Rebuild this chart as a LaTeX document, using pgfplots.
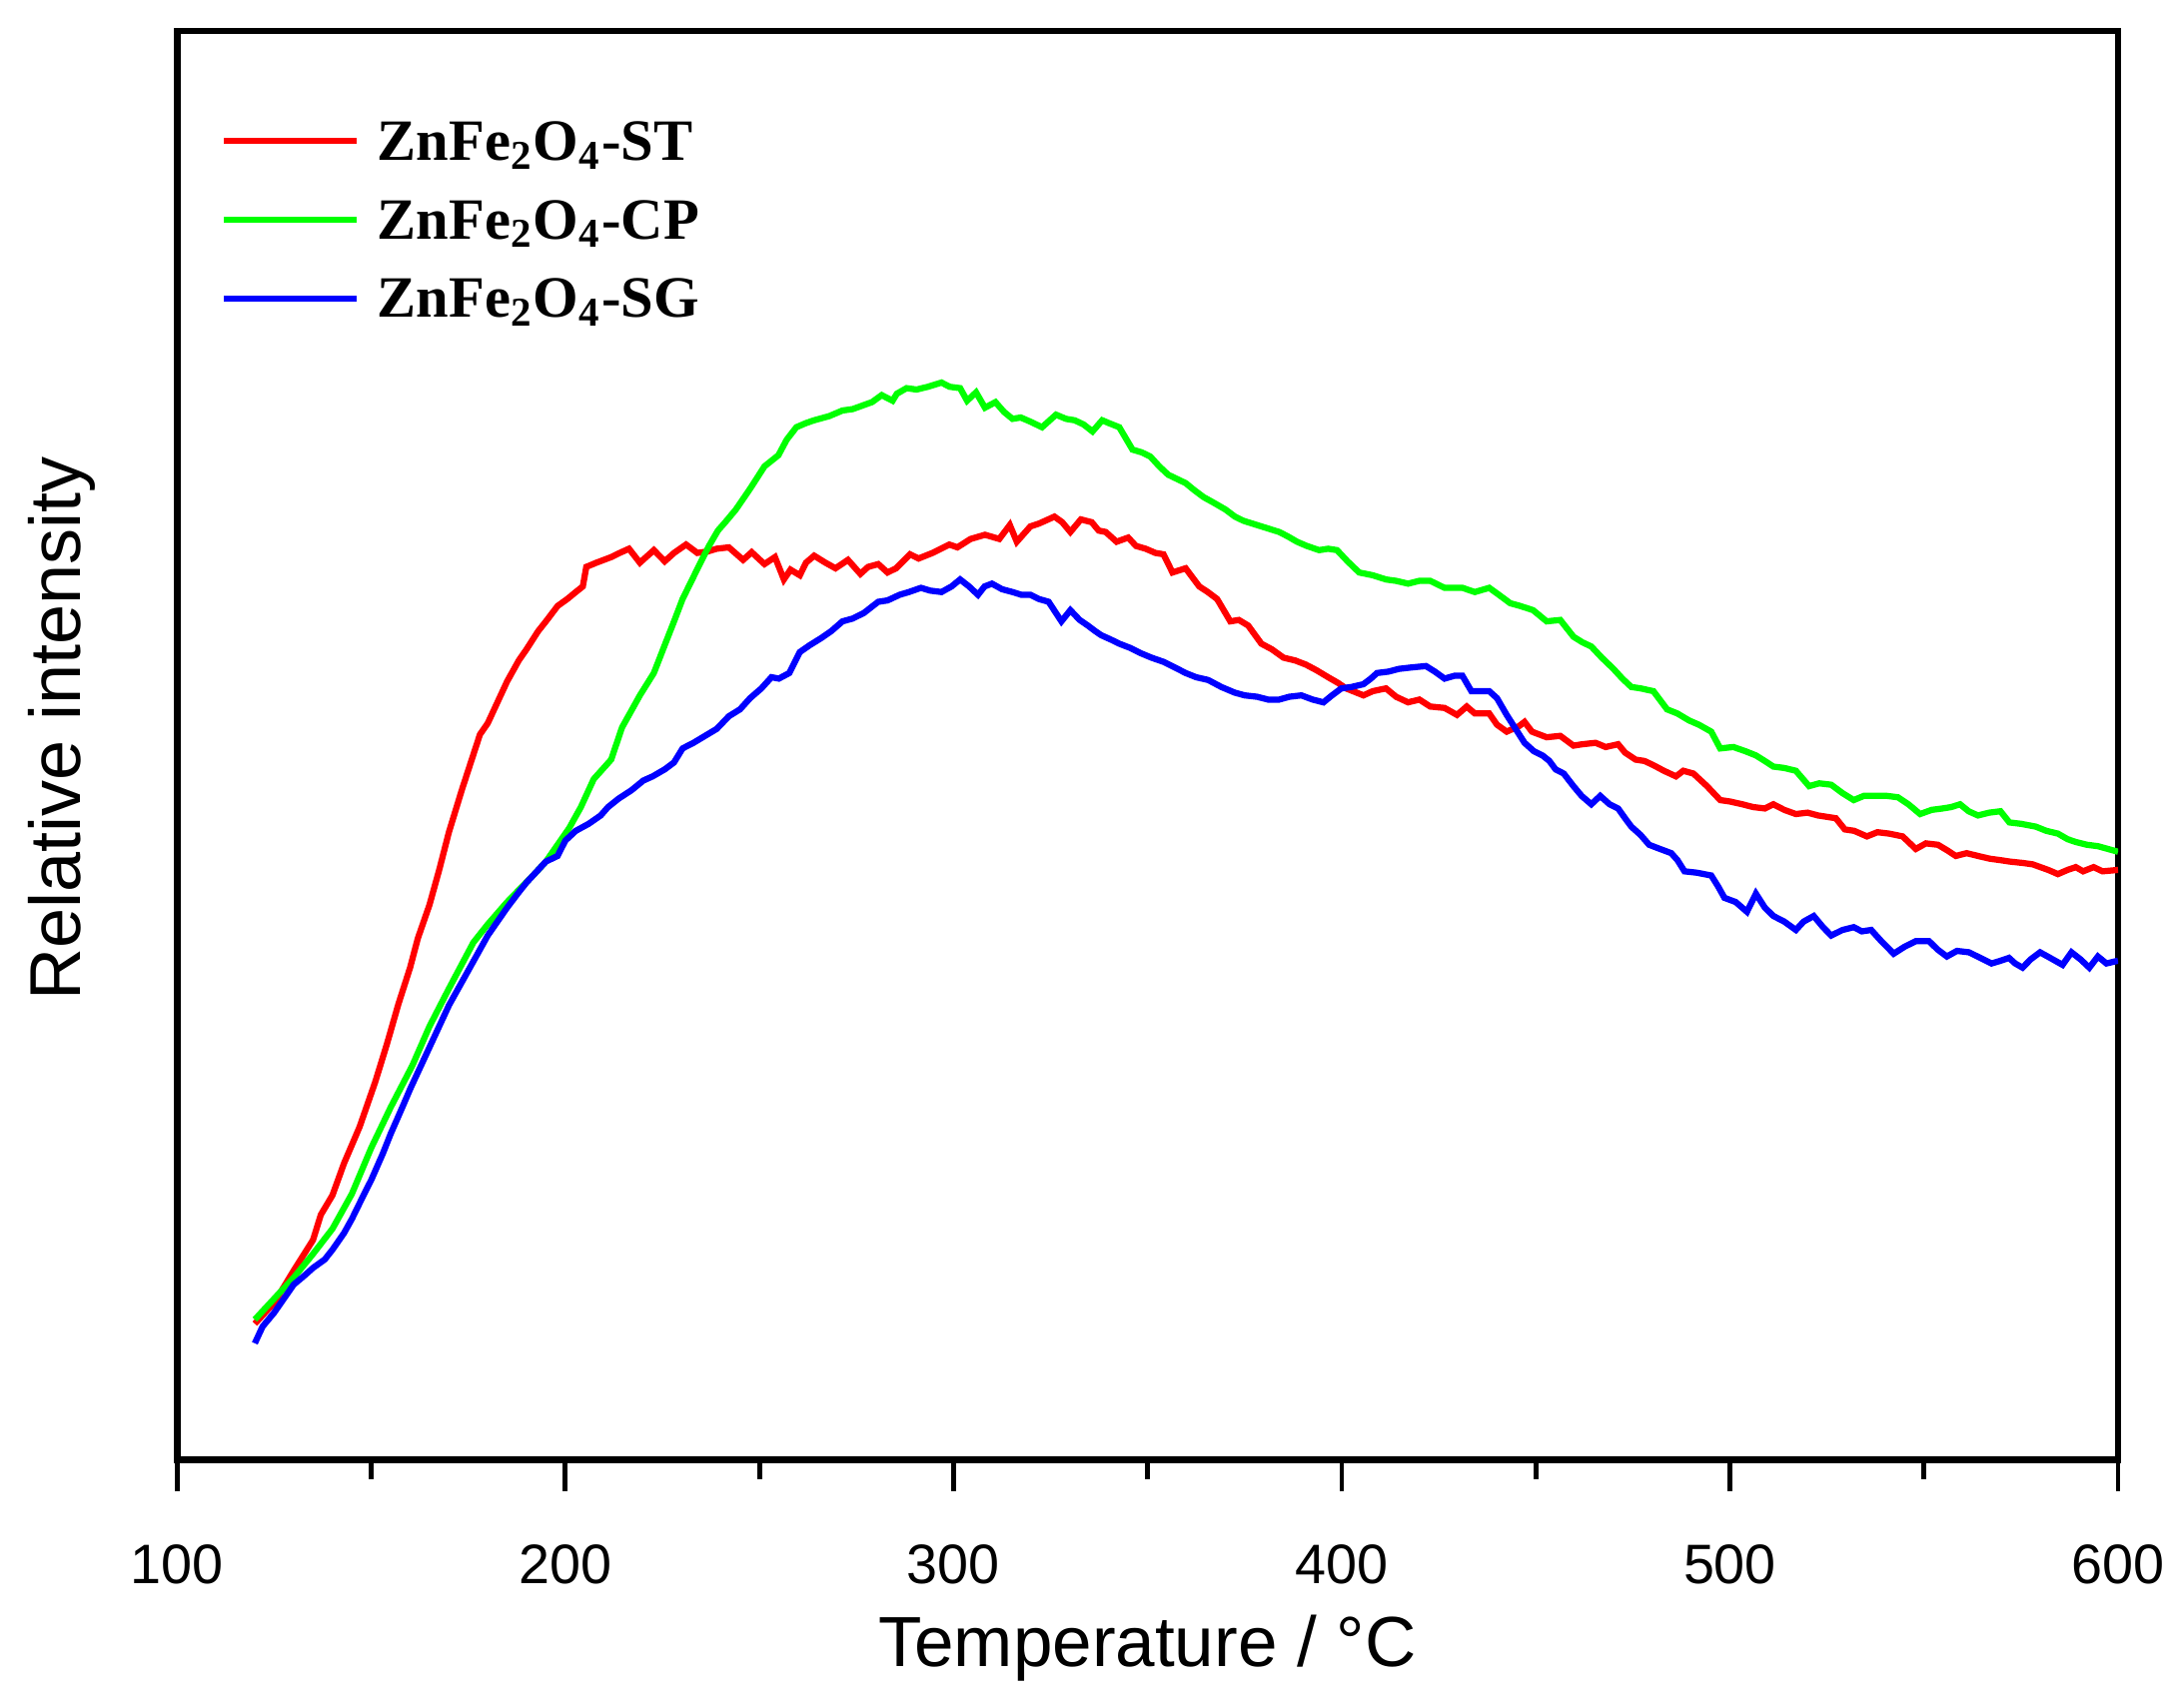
\documentclass[border=0pt]{standalone}
\usepackage{fontspec}
\setmainfont{Liberation Sans}
\newfontfamily\legfont{Liberation Serif}
\usepackage{pgfplots}
\pgfplotsset{compat=1.18}
\definecolor{cred}{RGB}{255,0,0}
\definecolor{cgreen}{RGB}{0,255,0}
\definecolor{cblue}{RGB}{0,0,255}
\begin{document}
\begin{tikzpicture}
\begin{axis}[
  scale only axis,
  width=14.219cm, height=10.472cm,
  xmin=100, xmax=600, ymin=2.4, ymax=1025.8,
  xtick={100,200,...,600},
  minor x tick num=1,
  ytick=\empty,
  xtick pos=bottom,
  tick align=outside,
  major tick length=0.23cm,
  minor tick length=0.14cm,
  every tick/.style={black, line width=1pt},
  axis line style={line width=1.4pt},
  /pgf/number format/assume math mode=true,
  /pgf/number format/1000 sep={},
  ticklabel style={font=\fontsize{11.6}{13}\selectfont},
  xticklabel style={anchor=base, inner sep=0pt, yshift=-0.675cm},
  xlabel={Temperature / °C},
  ylabel={Relative intensity},
  xlabel style={font=\fontsize{14.8}{18}\selectfont, at={([yshift=-1.51cm]axis description cs:0.5,0)}, anchor=base},
  ylabel style={font=\fontsize{15}{18}\selectfont, at={([xshift=-0.71cm]axis description cs:0,0.512)}, anchor=base},
  legend cell align=left,
  legend image code/.code={\draw[#1] (0cm,4pt) -- (0.97cm,4pt);},
  legend style={draw=none, fill=none, inner sep=0pt, at={([xshift=0.314cm,yshift=-18.7pt]axis description cs:0,1)}, anchor=north west,
    font=\legfont\bfseries\fontsize{12.2}{14}\selectfont, row sep=6.8pt, column sep=0.129cm,
    nodes={inner sep=0pt}, cells={anchor=base west}},
]
\addplot[cred, line width=1.3pt] coordinates {
(120,100)(125,115)(130,138)(135,160)(137,178)(140,192)(143,215)(147,241)(151,273)(154,300)(157,329)(160,355)(162,376)(165,400)(167.5,425)(170,452)(173.3,482)(176,505)(178,522)(180,530)(183,548)(185,560)(188,575)(190,583)(193,596)(195,603)(198,614)(200.5,619)(202.7,624)(204.5,628)(205.4,642)(208,645)(211.8,649)(214,652)(216.4,655)(219.2,645)(222.8,654)(225.6,646)(228,652)(231.1,658)(234,652)(236.6,653)(239,655)(242.1,656)(245.8,647)(248,652.5)(251.3,644)(254,649)(256.3,633)(258,640)(260.4,636)(262,645)(264.1,650)(267,645)(269.6,641)(272.8,647)(276,637)(278,642)(280.6,644)(283,638)(285.2,641)(288.8,651)(291,648)(294.6,652)(298.9,658)(301,656)(304.4,662)(308.1,665)(311.8,662)(314.5,672)(316.3,660)(319.8,671)(322,673)(326,678)(328,674)(330.1,667)(332.8,676)(335.6,674)(337.4,668)(339.2,667)(342,660)(345,663)(347,657)(349.5,655)(352,652)(354.1,651)(356.4,638)(359.8,641)(363.3,628)(365.5,624)(367.9,619)(371.3,603)(373.5,604)(375.9,600)(379.3,587)(382,583)(385,577)(388,575)(390.8,572)(393.5,568)(396.5,563)(399,559)(401.1,555)(405.6,550)(408,553)(411.4,555)(414,549)(417.1,545)(420,547)(422.8,542)(426.5,541)(429.7,536)(432.2,542)(434.3,537)(438,537)(440,529)(442.5,524)(445.7,528)(447.1,531)(449,524)(452.8,520)(456.3,521)(459.7,514)(462,515)(465.4,516)(468,513)(471.2,515)(473,509)(475.7,504)(478,503)(480.3,500)(483,496)(486.1,492)(488,496)(490.6,494)(494.1,485)(497.5,475)(500,474)(503.2,472)(506,470)(509,469)(511.2,472)(514,468)(517,465)(520,466)(522.7,464)(525,463)(527.3,462)(529.6,454)(532,453)(535.3,449)(538,452)(541,451)(544.5,449)(547.9,440)(550.5,444)(553.6,443)(556,439)(558.2,435)(561,437)(563.9,435)(567,433)(569.7,432)(572,431)(575.4,430)(578,429)(580,427)(582,425)(584.5,422)(587,425)(589.1,427)(591,424)(593.7,427)(596,424)(600,425)
};
\addlegendentry{ZnFe\textsubscript{2}O\textsubscript{4}-ST}
\addplot[cgreen, line width=1.3pt] coordinates {
(120,103)(125,118)(130,133)(135,150)(140,168)(145,193)(150,226)(155,255)(160.6,285)(165,313)(170,340)(176.3,373)(180,386)(185,402)(192,422)(195,431)(198,443)(201,455)(204,470)(207.3,490)(211.8,504)(214.6,527)(219.2,550)(222.8,566)(225.6,586)(228,603)(230.2,619)(232.5,632)(234.8,645)(237,657)(239.3,668)(241.5,675)(243.9,683)(247.6,698)(251.3,714)(254.9,722)(257,733)(259.5,742)(262,745)(264.1,747)(268,750)(271.4,754)(274,755)(276,757)(279,760)(281.5,765)(284.3,761)(285.4,766)(287.9,770)(290.5,769)(293.4,771)(296.9,774)(299,771)(301.7,770)(303.5,761)(305.8,767)(308.1,756)(310.8,760)(313,753)(315.2,748)(317.3,749)(319.8,746)(322.8,742)(326.4,751)(329,748)(331.2,747)(333.5,744)(335.8,739)(338.3,747)(340,745)(342.7,742)(346.1,726)(348.5,724)(350.7,721)(353,714)(355.3,708)(359.8,702)(362,697)(364.4,692)(367,688)(370.1,683)(372.5,678)(374.7,675)(377,673)(379.3,671)(383.9,667)(386,664)(388.5,660)(391,657)(394.2,654)(396.5,655)(398.8,654)(401.5,646)(404.5,638)(408,636)(411.4,633)(414,632)(417.1,630)(420,632)(422.8,632)(426.5,627)(431.1,627)(434.3,624)(438,627)(440.5,622)(443.4,616)(446,614)(449.3,611)(452.8,603)(456.3,604)(459.7,592)(462,588)(464.3,585)(467,577)(470,569)(472.3,562)(474.6,556)(477,555)(480.3,553)(483.8,540)(486.5,537)(489.5,532)(492,529)(495.2,524)(497.5,512)(500.9,513)(504,510)(506.7,507)(509,503)(511.2,499)(514,498)(517,496)(520.4,485)(523,487)(526.1,486)(529,480)(531.9,475)(534.5,478)(537.6,478)(540.5,478)(543.3,477)(546,472)(549,465)(552,468)(554.8,469)(557,470)(559.3,472)(561.5,467)(563.9,464)(566.8,466)(569.7,467)(572,459)(575,458)(578.8,456)(581.5,453)(584.5,451)(587,447)(589.1,445)(592,443)(594.8,442)(600,438)
};
\addlegendentry{ZnFe\textsubscript{2}O\textsubscript{4}-CP}
\addplot[cblue, line width=1.3pt] coordinates {
(120,86)(122,98)(125,108)(128,120)(130,128)(133,135)(135,140)(138,146)(140,153)(143,165)(145,175)(148,192)(150,203)(153,222)(155,236)(158,255)(160,268)(163,286)(165,298)(168,316)(170,328)(173,343)(175,353)(178,368)(180,378)(183,390)(185,398)(188,409)(190,416)(193,425)(195,431)(198,435)(200,446)(202.7,453)(206,458)(209.1,464)(211,470)(213.7,476)(217,482)(220.1,489)(222.5,492)(225.6,497)(228,502)(230.2,512)(233,516)(236.6,522)(239,526)(242.1,535)(245,540)(247.6,548)(250.5,555)(253.1,563)(255,562)(257.7,566)(260.4,581)(263,586)(265.9,591)(268.5,596)(271.4,603)(274,605)(276.9,609)(280.6,617)(283,618)(286.1,622)(288.5,624)(291.6,627)(294,625)(296.9,624)(299.5,628)(301.7,633)(304,628)(306.3,622)(308,628)(309.9,630)(312.5,626)(315.2,624)(317.5,622)(319.8,622)(322,619)(324.5,617)(327.8,603)(330.1,611)(332.5,604)(334.6,600)(336.5,596)(338.1,593)(340.5,590)(342.7,587)(345.5,584)(348.4,580)(351,577)(354.1,574)(357,570)(359.8,566)(362.5,563)(365.6,561)(369,556)(372.4,552)(375,550)(378.2,549)(381,547)(383.9,547)(386.5,549)(389.6,550)(392.5,547)(395.3,545)(397.5,550)(399.9,555)(402.5,556)(405.6,558)(407.5,562)(409.1,566)(412,567)(414.8,569)(418,570)(421.7,571)(424,567)(426.5,562)(429,564)(431.1,564)(433.4,553)(436,553)(438,553)(440,548)(442.5,536)(444.8,526)(447.1,516)(449.5,510)(451.7,507)(453.5,503)(455.1,497)(457.2,494)(459.7,485)(461.8,478)(464.3,472)(466.6,478)(469,472)(471.2,469)(473,462)(474.6,456)(477,450)(479.2,443)(482,440)(484.9,437)(486.5,432)(488.3,424)(491.5,423)(495.2,421)(497,413)(498.6,405)(501.5,402)(504.4,395)(506.7,408)(509,398)(511.2,392)(514,388)(517,382)(519,388)(521.6,392)(524,384)(526.1,378)(529,382)(531.9,384)(534,381)(536.4,382)(539,374)(542.2,365)(545,370)(547.9,374)(551.3,374)(553.5,368)(555.9,363)(558.5,367)(561.6,366)(564.5,362)(567.4,358)(569.8,360)(571.9,362)(573.5,358)(575.4,355)(577.5,361)(579.9,366)(582.5,362)(585.7,357)(588,366)(590.3,361)(592.6,355)(594.8,363)(597,358)(600,360)
};
\addlegendentry{ZnFe\textsubscript{2}O\textsubscript{4}-SG}
\path (axis cs:100,2.4) ++(-1.298cm,-1.752cm) coordinate (bbl);
\path (axis cs:600,1025.8) ++(0.483cm,0.227cm) coordinate (bbr);
\end{axis}
\useasboundingbox (bbl) rectangle (bbr);
\end{tikzpicture}
\end{document}
